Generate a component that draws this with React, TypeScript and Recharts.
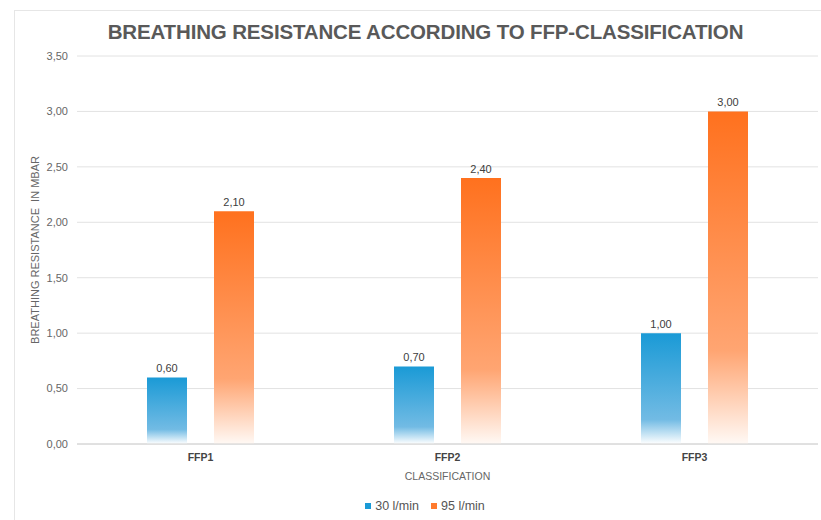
import { BarChart, Bar, XAxis, YAxis, CartesianGrid, LabelList } from "recharts";

const categories = ["FFP1", "FFP2", "FFP3"];
const flow30 = [0.6, 0.7, 1.0];
const flow95 = [2.1, 2.4, 3.0];
const yTicks = [0, 0.5, 1, 1.5, 2, 2.5, 3, 3.5];

const data = categories.map((name, i) => ({ name, f30: flow30[i], f95: flow95[i] }));

const fmt = (v: any) => Number(v).toFixed(2).replace(".", ",");
const FONT = "'Liberation Sans', Arial, sans-serif";

function YLabel({ viewBox }: any) {
  const cx = viewBox.x - 2;
  const cy = viewBox.y + viewBox.height / 2;
  return (
    <text
      x={cx} y={cy} transform={`rotate(-90, ${cx}, ${cy})`}
      textAnchor="middle" dominantBaseline="central"
      fill="#666" fontSize={11} fontFamily={FONT}
      style={{ whiteSpace: "pre" }}
    >
      {"BREATHING RESISTANCE \u00a0IN MBAR"}
    </text>
  );
}

export default function App() {
  return (
    <div style={{ position: "absolute", left: 0, top: 0, width: 821, height: 520, background: "#fff", fontFamily: FONT, overflow: "hidden" }}>
      {/* card frame */}
      <div style={{ position: "absolute", left: 14, top: 10, width: 830, height: 530, border: "1px solid #e6e6e6" }} />
      <div style={{ position: "absolute", left: 15, width: 821, top: 20, textAlign: "center", fontSize: 20.5, fontWeight: 700, color: "#595959", letterSpacing: -0.15 }}>
        BREATHING RESISTANCE ACCORDING TO FFP-CLASSIFICATION
      </div>
      <div style={{ position: "absolute", top: 0, left: 0 }}>
        <BarChart
          width={821} height={520} data={data}
          margin={{ top: 56, right: 3, left: 37, bottom: 36 }}
          barSize={40} barGap={27}
        >
          <defs>
            <linearGradient id="gBlue" x1="0" y1="0" x2="0" y2="1">
              <stop offset="0" stopColor="#1a9ad6" />
              <stop offset="0.78" stopColor="#72bbe4" />
              <stop offset="1" stopColor="#ffffff" />
            </linearGradient>
            <linearGradient id="gOrange" x1="0" y1="0" x2="0" y2="1">
              <stop offset="0" stopColor="#ff711e" />
              <stop offset="0.72" stopColor="#ffa572" />
              <stop offset="1" stopColor="#fff9f5" />
            </linearGradient>
          </defs>
          <CartesianGrid vertical={false} stroke="#e2e2e2" />
          <XAxis
            dataKey="name" height={40} axisLine={{ stroke: "#d0d0d0" }} tickLine={false}
            tickMargin={4}
            tick={{ fill: "#444", fontSize: 10.5, fontWeight: 700, fontFamily: FONT }}
            label={{ value: "CLASSIFICATION", position: "insideBottom", offset: 4, fill: "#666", fontSize: 10.5, fontFamily: FONT }}
          />
          <YAxis
            width={40} domain={[0, 3.5]} ticks={yTicks} axisLine={false} tickLine={false}
            tickMargin={3} tickFormatter={fmt}
            tick={{ fill: "#666", fontSize: 11, fontFamily: FONT }}
            label={<YLabel />}
          />
          <Bar dataKey="f30" fill="url(#gBlue)" isAnimationActive={false}>
            <LabelList dataKey="f30" position="top" offset={5} formatter={fmt} fill="#404040" fontSize={11} fontFamily={FONT} />
          </Bar>
          <Bar dataKey="f95" fill="url(#gOrange)" isAnimationActive={false}>
            <LabelList dataKey="f95" position="top" offset={5} formatter={fmt} fill="#404040" fontSize={11} fontFamily={FONT} />
          </Bar>
        </BarChart>
      </div>
      <div style={{ position: "absolute", top: 499, left: 0, width: 850, display: "flex", justifyContent: "center", fontSize: 12.5, color: "#555" }}>
        <span style={{ display: "flex", alignItems: "center", marginRight: 12 }}>
          <span style={{ width: 6, height: 6, background: "#1a9ad6", marginRight: 4 }} />30 l/min
        </span>
        <span style={{ display: "flex", alignItems: "center" }}>
          <span style={{ width: 6, height: 6, background: "#ff7a2e", marginRight: 4 }} />95 l/min
        </span>
      </div>
    </div>
  );
}
